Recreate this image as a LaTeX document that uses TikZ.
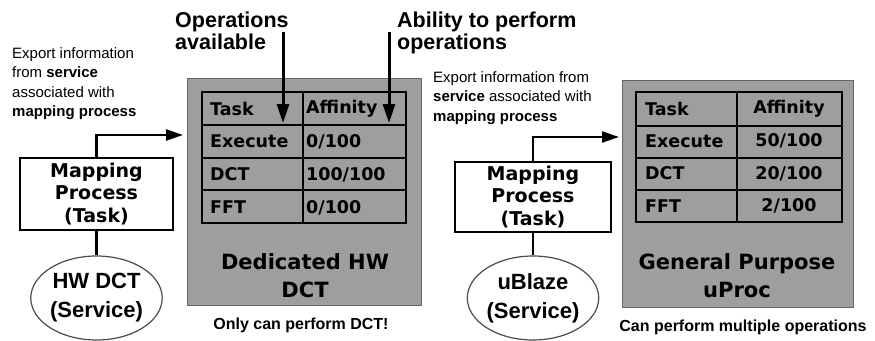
\documentclass[tikz,border=0pt]{standalone}
\usepackage{fontspec}
\setmainfont{Liberation Sans}
\newfontfamily\verd{DejaVu Sans}
\usetikzlibrary{arrows.meta,shapes.geometric}

\definecolor{boxgray}{RGB}{158,158,158}

\tikzset{
  toplabel/.style={font=\fontsize{21.5}{22}\selectfont\bfseries, align=left, inner sep=0, anchor=north west},
  note/.style={font=\fontsize{15}{19.5}\selectfont, align=left, inner sep=0, anchor=north west},
  caption/.style={font=\fontsize{16}{18}\selectfont\bfseries, inner sep=0},
  hwbox/.style={draw=black!60, line width=1pt, fill=boxgray, minimum height=227},
  hwtext/.style={font=\verd\fontsize{21}{28}\selectfont\bfseries, text=black, align=center, inner sep=0},
  cell/.style={font=\verd\fontsize{17.5}{20}\selectfont\bfseries, inner sep=0},
  tabout/.style={line width=2.8pt},
  tabin/.style={line width=2pt},
  task/.style={draw, line width=2.2pt, fill=white, align=center, inner sep=0,
    font=\verd\fontsize{19}{22.5}\selectfont\bfseries},
  service/.style={ellipse, draw=black!70, line width=1.2pt, fill=white, align=center, inner sep=0,
    minimum width=114, minimum height=84, font=\fontsize{22}{29}\selectfont\bfseries},
  flow/.style={line width=2.4pt, -{Triangle[length=17pt,width=11pt]}},
  point/.style={line width=3pt, -{Triangle[length=19pt,width=12pt]}},
}

\begin{document}
\begin{tikzpicture}[x=1pt,y=-1pt]
        \useasboundingbox (0,0) rectangle (875,340);

        % Labels on top
        \node[toplabel] (ops) at (175,12) {Operations\\available};
        \node[toplabel] (abl) at (397,12) {Ability to perform\\operations};

        % Export notes
        \node[note] (note1) at (12,47) {Export information\\from \textbf{service}\\associated with\\\textbf{mapping process}};
        \node[note] (note2) at (433,71) {Export information from\\\textbf{service} associated with\\\textbf{mapping process}};

        % Hardware units
        \node[hwbox, minimum width=234] (hw) at (304,191.5) {};
        \node[hwbox, minimum width=231] (gp) at (737.5,193.5) {};

        % Left table
        \draw[tabout] (202,92) rectangle (406,223);
        \foreach \y in {125,158,190} {
            \draw[tabin] (202,\y) -- (406,\y);
        }
        \draw[tabin] (303,92) -- (303,223);
        \foreach \t/\a [count=\i] in {Task/Affinity, Execute/{0/100}, DCT/{100/100}, FFT/{0/100}} {
            \node[cell, anchor=west] (hwt\i) at (210,75.5+33*\i) {\t};
            \node[cell, anchor=west] (hwa\i) at (306,75.5+33*\i) {\a};
        }

        % Right table
        \draw[tabout] (636,92) rectangle (842,222);
        \foreach \y in {126,158,190} {
            \draw[tabin] (636,\y) -- (842,\y);
        }
        \draw[tabin] (737,92) -- (737,222);
        \foreach \t/\a [count=\i] in {Task/Affinity, Execute/{50/100}, DCT/{20/100}, FFT/{2/100}} {
            \node[cell, anchor=west] (gpt\i) at (645,76+32.5*\i) {\t};
            \node[cell] (gpa\i) at (789,76+32.5*\i) {\a};
        }

        % Names of the units
        \node[hwtext] (hwname) at (305,276) {Dedicated HW\\DCT};
        \node[hwtext] (gpname) at (737,276) {General Purpose\\uProc};
        \node[caption] (cap1) at (301,325) {Only can perform DCT!};
        \node[caption] (cap2) at (743,327) {Can perform multiple operations};

        % Tasks and services
        \node[task, minimum width=153, minimum height=72] (map1) at (96.5,194) {Mapping\\Process\\(Task)};
        \node[task, minimum width=156, minimum height=70] (map2) at (533,197) {Mapping\\Process\\(Task)};
        \node[service] (svc1) at (96.5,298) {HW DCT\\(Service)};
        \node[service, minimum width=118] (svc2) at (533,298) {uBlaze\\(Service)};
        \draw[line width=2.4pt] (map1.south) -- (svc1.north);
        \draw[line width=2.4pt] (map2.south) -- (svc2.north);

        % Export arrows
        \coordinate (in1) at (183,135);
        \coordinate (in2) at (619,137);
        \draw[flow] (map1.north) |- (in1);
        \draw[flow] (map2.north) |- (in2);

        % Arrows from the labels
        \coordinate (opsfrom) at (283,32);
        \coordinate (opsto) at (283,123);
        \coordinate (ablfrom) at (389,32);
        \coordinate (ablto) at (389,123);
        \draw[point] (opsfrom) -- (opsto);
        \draw[point] (ablfrom) -- (ablto);
\end{tikzpicture}
\end{document}
